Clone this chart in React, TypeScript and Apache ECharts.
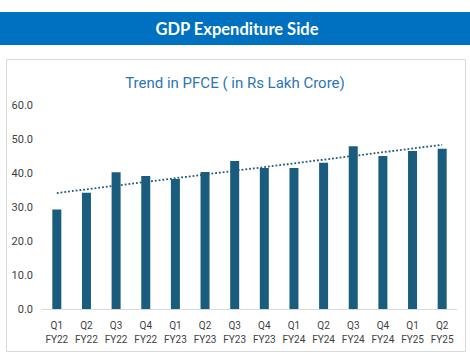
import React, { useEffect, useRef } from "react";
import * as echarts from "echarts";

const categories = [
  "Q1\nFY22", "Q2\nFY22", "Q3\nFY22", "Q4\nFY22",
  "Q1\nFY23", "Q2\nFY23", "Q3\nFY23", "Q4\nFY23",
  "Q1\nFY24", "Q2\nFY24", "Q3\nFY24", "Q4\nFY24",
  "Q1\nFY25", "Q2\nFY25",
];
const pfce = [29.3, 34.2, 40.2, 39.1, 38.2, 40.3, 43.5, 41.5, 41.5, 43.0, 47.9, 45.0, 46.5, 47.1];
// trend line endpoints (first and last quarter)
const trendStart = 34.1;
const trendEnd = 48.3;
const yTicks = [0, 10, 20, 30, 40, 50, 60];

export default function App() {
  const ref = useRef<HTMLDivElement>(null);
  useEffect(() => {
    if (!ref.current) return;
    const chart = echarts.init(ref.current, undefined, { renderer: "svg" });
    const trend = categories.map((_, i) =>
      i === 0 ? trendStart : i === categories.length - 1 ? trendEnd : null
    );
    chart.setOption({
      animation: false,
      backgroundColor: "#ffffff",
      graphic: [
        {
          type: "rect",
          shape: { x: 0, y: 12, width: 470, height: 33 },
          style: { fill: "#0070c0" },
          silent: true,
        },
        {
          type: "text",
          x: 237,
          y: 29,
          style: {
            text: "GDP Expenditure Side",
            fill: "#ffffff",
            font: "bold 16.5px Lato, 'Open Sans', sans-serif",
            textAlign: "center",
            textVerticalAlign: "middle",
          },
          silent: true,
        },
        {
          type: "rect",
          shape: { x: 6.5, y: 59.5, width: 459, height: 292 },
          style: { fill: "none", stroke: "#d9d9d9", lineWidth: 1 },
          silent: true,
        },
      ],
      title: {
        text: "Trend in PFCE ( in Rs Lakh Crore)",
        left: "center",
        top: 70,
        textStyle: {
          color: "#2e75b6",
          fontSize: 15,
          fontWeight: "normal",
          fontFamily: "Roboto, sans-serif",
        },
      },
      grid: { left: 42, right: 13, top: 105, bottom: 51 },
      xAxis: {
        type: "category",
        data: categories,
        axisLine: { lineStyle: { color: "#d9d9d9", width: 1 } },
        axisTick: { show: false },
        axisLabel: {
          color: "#404040",
          fontSize: 10,
          lineHeight: 14,
          margin: 9,
          fontFamily: "Roboto, sans-serif",
          interval: 0,
        },
      },
      yAxis: {
        type: "value",
        min: yTicks[0],
        max: yTicks[yTicks.length - 1],
        interval: 10,
        splitLine: { show: false },
        axisLine: { show: false },
        axisTick: { show: false },
        axisLabel: {
          color: "#404040",
          fontSize: 11,
          margin: 9,
          fontFamily: "Roboto, sans-serif",
          formatter: (v: number) => v.toFixed(1),
        },
      },
      series: [
        {
          type: "bar",
          data: pfce,
          barWidth: 9,
          itemStyle: { color: "#1a5c7e" },
        },
        {
          type: "line",
          data: trend,
          connectNulls: true,
          symbol: "none",
          lineStyle: { color: "#1f5a78", width: 1.8, type: [1.8, 2] },
        },
      ],
    });
    return () => chart.dispose();
  }, []);
  return (
    <div
      ref={ref}
      style={{ position: "fixed", left: 0, top: 0, width: 470, height: 360 }}
    />
  );
}
